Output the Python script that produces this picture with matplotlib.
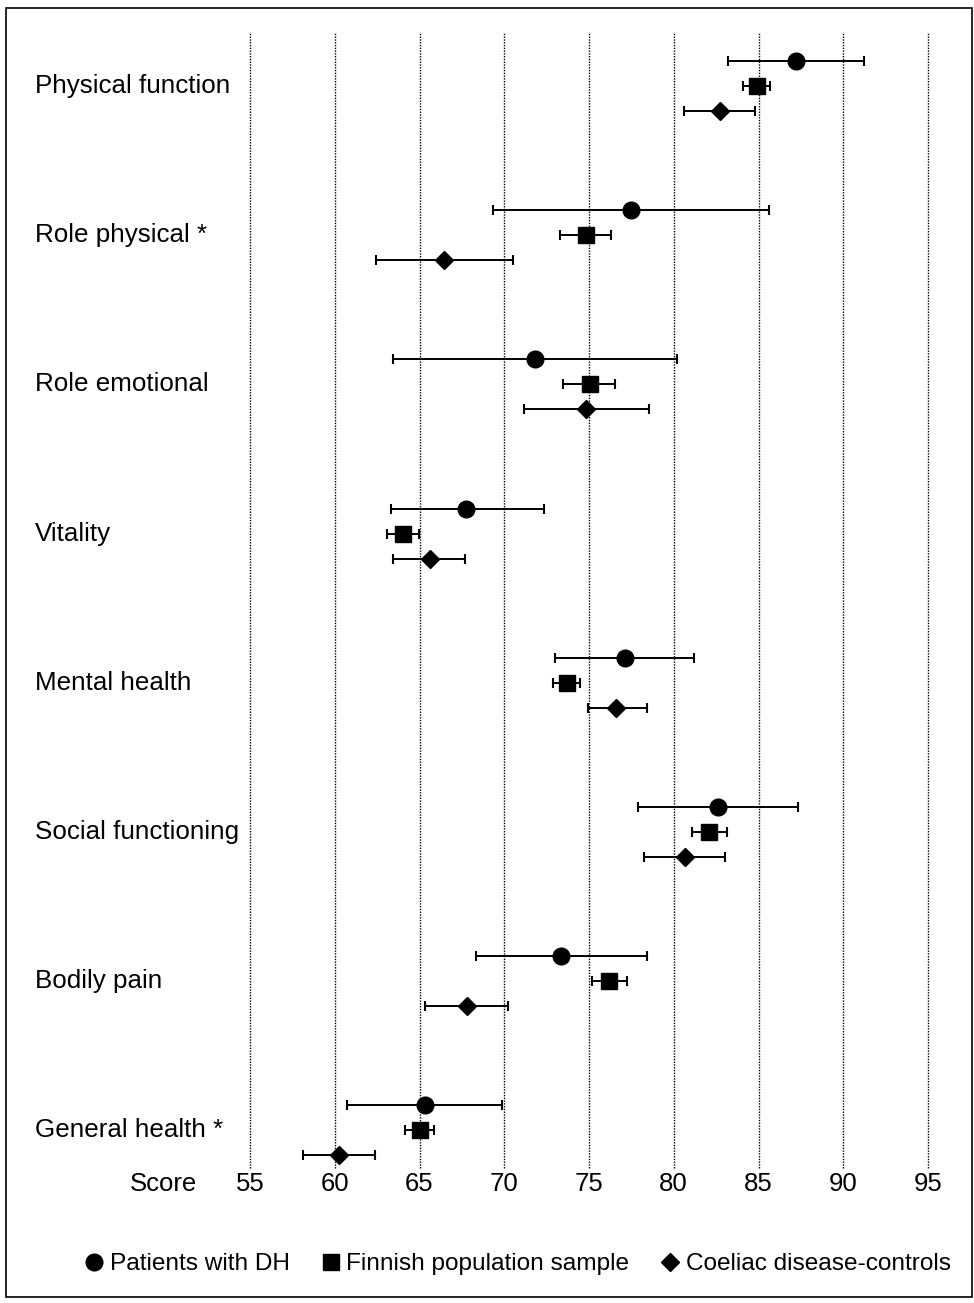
import matplotlib
matplotlib.use("Agg")
import matplotlib.pyplot as plt
import matplotlib.transforms as mtransforms
from matplotlib.lines import Line2D
from matplotlib.patches import Rectangle
import numpy as np

plt.rcParams['font.family'] = ['Liberation Sans', 'DejaVu Sans']

# SF-36 dimensions, top to bottom
dimensions = ["Physical function", "Role physical *", "Role emotional", "Vitality",
              "Mental health", "Social functioning", "Bodily pain", "General health *"]

# Mean scores with 95% CI (low, high)
dh_mean = [87.2, 77.45, 71.8, 67.77, 77.1, 82.59, 73.36, 65.3]
dh_low = [83.2, 69.35, 63.44, 63.29, 73.0, 77.87, 68.32, 60.75]
dh_high = [91.2, 85.6, 80.17, 72.34, 81.2, 87.33, 78.4, 69.87]

pop_mean = [84.9, 74.8, 75.03, 64.01, 73.72, 82.1, 76.17, 65.02]
pop_low = [84.07, 73.28, 73.44, 63.07, 72.85, 81.1, 75.17, 64.17]
pop_high = [85.7, 76.3, 76.53, 64.98, 74.48, 83.12, 77.22, 65.84]

cd_mean = [82.7, 66.47, 74.84, 65.61, 76.6, 80.64, 67.79, 60.24]
cd_low = [80.6, 62.46, 71.18, 63.44, 74.93, 78.26, 65.33, 58.11]
cd_high = [84.8, 70.49, 78.56, 67.71, 78.4, 83.04, 70.2, 62.36]

score_ticks = [55, 60, 65, 70, 75, 80, 85, 90, 95]

W, H = 974, 1303
fig = plt.figure(figsize=(W / 100, H / 100), dpi=100)

# plot area in pixels: x 250..928, y 32..1168
top_px, bot_px = 32, 1168
row0_px, row_step = 86, 149.2
ax = fig.add_axes([250 / W, (H - bot_px) / H, 678 / W, (bot_px - top_px) / H])
ax.set_xlim(55, 95)
ax.set_ylim((bot_px - row0_px) / row_step, (top_px - row0_px) / row_step)
for s in ax.spines.values():
    s.set_visible(False)

for t in score_ticks:
    ax.axvline(t, color='black', linestyle=(0, (1, 1)), linewidth=1.0, zorder=0, clip_on=False)

rows = np.arange(len(dimensions))
offset = 0.168
series = [
    (dh_mean, dh_low, dh_high, 'o', 12, -offset),
    (pop_mean, pop_low, pop_high, 's', 11.5, 0),
    (cd_mean, cd_low, cd_high, 'D', 9.5, offset),
]
for mean, low, high, mk, ms, dy in series:
    mean = np.array(mean)
    err = [mean - np.array(low), np.array(high) - mean]
    ax.errorbar(mean, rows + dy, xerr=err, fmt=mk, color='black', markersize=ms,
                elinewidth=1.4, capsize=3.5, capthick=1.5, zorder=3)

ax.set_xticks(score_ticks)
ax.set_xticklabels([str(t) for t in score_ticks], fontsize=18.5)
ax.tick_params(axis='x', length=0, pad=3)
ax.set_yticks([])

trans = mtransforms.blended_transform_factory(fig.transFigure, ax.transData)
for i, name in enumerate(dimensions):
    ax.text(35 / W, rows[i], name, transform=trans, ha='left', va='center', fontsize=18.7)

fig.text(163 / W, (H - 1184) / H, "Score", ha='center', va='center', fontsize=18.5)

handles = [
    Line2D([], [], marker='o', color='black', linestyle='none', markersize=12),
    Line2D([], [], marker='s', color='black', linestyle='none', markersize=11.5),
    Line2D([], [], marker='D', color='black', linestyle='none', markersize=9.5),
]
fig.legend(handles, ["Patients with DH", "Finnish population sample", "Coeliac disease-controls"],
           loc='center', bbox_to_anchor=(517 / W, (H - 1264) / H), ncol=3, frameon=False,
           fontsize=17.6, handletextpad=0.2, columnspacing=1.2, handlelength=0.9)

# frame around the whole figure
fig.add_artist(Rectangle((6 / W, 6 / H), 966 / W, 1289 / H, transform=fig.transFigure,
                         fill=False, edgecolor='black', linewidth=1.2))

fig.savefig("out.png", dpi=100)
